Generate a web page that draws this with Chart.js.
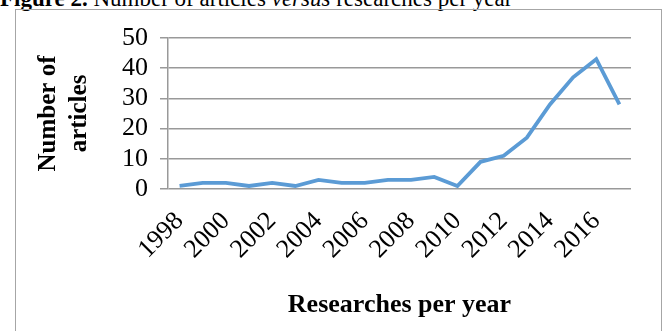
<!DOCTYPE html>
<html>
<head>
<meta charset="utf-8">
<script src="https://cdn.jsdelivr.net/npm/chart.js@4/dist/chart.umd.min.js"></script>
<style>
  html, body { margin: 0; padding: 0; background: #fff; }
  #wrap { position: relative; width: 667px; height: 331px; overflow: hidden; }
  #caption {
    position: absolute; left: 0; top: -14px; white-space: nowrap;
    font-family: "Liberation Serif", serif; font-size: 23px; color: #000;
  }
  #frame {
    position: absolute; left: 15px; top: 9px; width: 647px; height: 340px;
    border: 1px solid #a6a6a6; box-sizing: border-box;
  }
  #chart { position: absolute; left: 0; top: 0; }
</style>
</head>
<body>
<div id="wrap">
  <div id="caption"><b>Figure 2.</b> Number of articles <i>versus</i> researches per year</div>
  <div id="frame"></div>
  <canvas id="chart" width="667" height="331"></canvas>
</div>
<script>
// 數據
var years = ['1998', '1999', '2000', '2001', '2002', '2003', '2004', '2005', '2006', '2007',
             '2008', '2009', '2010', '2011', '2012', '2013', '2014', '2015', '2016', '2017'];
var articles = [1, 2, 2, 1, 2, 1, 3, 2, 2, 3, 3, 4, 1, 9, 11, 17, 28, 37, 43, 28];
var yTicks = [0, 10, 20, 30, 40, 50];

var serif = 'Liberation Serif';

function createChart(canvasId) {
  var ctx = document.getElementById(canvasId).getContext('2d');

  new Chart(ctx, {
    type: 'line',
    data: {
      labels: years,
      datasets: [{
        label: 'Number of articles',
        data: articles,
        borderColor: '#5b9bd5',
        borderWidth: 3.8,
        pointRadius: 0,
        tension: 0,
        fill: false
      }]
    },
    options: {
      responsive: false,
      animation: false,
      layout: { padding: { left: 33, top: 38, right: 36, bottom: 10 } },
      plugins: { legend: { display: false }, tooltip: { enabled: false } },
      scales: {
        x: {
          offset: true,
          grid: { display: false },
          border: { display: false },
          ticks: {
            autoSkip: false,
            maxRotation: 45,
            minRotation: 45,
            padding: 9,
            color: '#000',
            font: { family: serif, size: 26 },
            callback: function(v, i) { return i % 2 === 0 ? years[i] : ''; }
          },
          title: {
            display: true,
            text: 'Researches per year',
            color: '#000',
            font: { family: serif, size: 26, weight: 'bold' },
            padding: { top: 14, bottom: 0 }
          },
          afterFit: function(scale) { scale.height = 132; }
        },
        y: {
          min: 0,
          max: 50,
          afterBuildTicks: function(scale) {
            scale.ticks = yTicks.map(function(v) { return { value: v }; });
          },
          grid: { color: '#999', lineWidth: 1.5, tickLength: 8 },
          border: { display: true, color: '#999', width: 1.5 },
          ticks: {
            autoSkip: false,
            padding: 12,
            color: '#000',
            font: { family: serif, size: 26 }
          },
          title: {
            display: true,
            text: ['Number of', 'articles'],
            color: '#000',
            font: { family: serif, size: 25, weight: 'bold', lineHeight: 1.25 },
            padding: { top: 0, bottom: 4 }
          },
          afterFit: function(scale) { scale.width = 135; }
        }
      }
    }
  });
}

document.addEventListener('DOMContentLoaded', function() {
  createChart('chart');
});
</script>
</body>
</html>
